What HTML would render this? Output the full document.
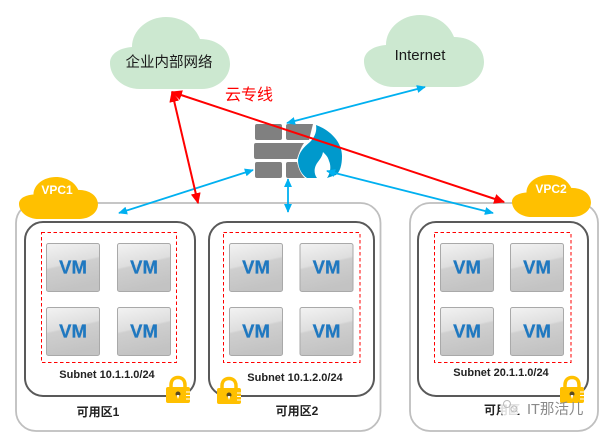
<!DOCTYPE html>
<html>
<head>
<meta charset="utf-8">
<style>
html,body{margin:0;padding:0;background:#fff;width:604px;height:435px;overflow:hidden}
svg{display:block}
text{font-family:"Liberation Sans","Noto Sans CJK SC",sans-serif}
</style>
</head>
<body>
<svg width="604" height="435" viewBox="0 0 604 435" xmlns="http://www.w3.org/2000/svg">
<defs>
<linearGradient id="g" x1="0" y1="0" x2="0.25" y2="1">
<stop offset="0" stop-color="#f3f3f3"/><stop offset="0.48" stop-color="#dedede"/><stop offset="0.52" stop-color="#cfcfcf"/><stop offset="1" stop-color="#c3c3c3"/>
</linearGradient>
<path id="cloud" d="M30 72C13 72 0 60 0 46C0 37 9 31 22 30C22 13 38 0 56 0C72 0 85 9 90 22C107 22 120 32 120 47C120 61 107 72 92 72Z"/>
<g id="vm">
<rect x="0.5" y="0.5" width="53" height="48" rx="2" fill="url(#g)" stroke="#a9a9a9"/>
<text x="27" y="30.500" text-anchor="middle" font-size="18.500" font-weight="bold" fill="#1f78c0" stroke="#1f78c0" stroke-width="0.3">VM</text>
</g>
<g id="lock">
<path d="M5 12V9C5 4 8 1.500 12 1.500C16 1.500 19 4 19 9V12" fill="none" stroke="#ffc000" stroke-width="3.500"/>
<rect x="0" y="11" width="24" height="16" rx="2" fill="#ffc000"/>
<circle cx="12" cy="18" r="2.500" fill="#5a4a20"/>
<path d="M10.500 19H13.500L12 23Z" fill="#fff"/>
<path d="M20 16H24M20 19.500H24M20 23H24" stroke="#fff" stroke-width="1"/>
</g>
<marker id="bs" viewBox="0 0 10 10" refX="9" refY="5" markerWidth="9" markerHeight="8" markerUnits="userSpaceOnUse" orient="auto-start-reverse" preserveAspectRatio="none"><path d="M0 0L10 5L0 10Z" fill="#00b0f0"/></marker>
<marker id="rs" viewBox="0 0 10 10" refX="9" refY="5" markerWidth="11" markerHeight="10" markerUnits="userSpaceOnUse" orient="auto-start-reverse" preserveAspectRatio="none"><path d="M0 0L10 5L0 10Z" fill="#ff0000"/></marker>
</defs>

<!-- VPC containers -->
<rect x="16" y="203" width="364.500" height="228" rx="20" fill="#fff" stroke="#bfbfbf" stroke-width="1.800"/>
<rect x="410" y="203" width="188" height="228" rx="20" fill="#fff" stroke="#bfbfbf" stroke-width="1.800"/>

<!-- AZ boxes -->
<rect x="25" y="222" width="170" height="174" rx="18" fill="none" stroke="#595959" stroke-width="2"/>
<rect x="209" y="222" width="165" height="174" rx="18" fill="none" stroke="#595959" stroke-width="2"/>
<rect x="418" y="222" width="170" height="174" rx="18" fill="none" stroke="#595959" stroke-width="2"/>

<!-- Subnets -->
<g fill="none" stroke="#ff0000" stroke-width="1" stroke-dasharray="3.500 2.500">
<rect x="41.500" y="232.500" width="135" height="130"/>
<rect x="223.500" y="232.500" width="136.500" height="130"/>
<rect x="434.500" y="232.500" width="136.500" height="130"/>
</g>

<!-- VMs -->
<use href="#vm" x="46" y="243"/><use href="#vm" x="117" y="243"/>
<use href="#vm" x="46" y="307"/><use href="#vm" x="117" y="307"/>
<use href="#vm" x="229" y="243"/><use href="#vm" x="299.500" y="243"/>
<use href="#vm" x="229" y="307"/><use href="#vm" x="299.500" y="307"/>
<use href="#vm" x="440" y="243"/><use href="#vm" x="510" y="243"/>
<use href="#vm" x="440" y="307"/><use href="#vm" x="510" y="307"/>

<!-- Subnet labels -->
<g font-size="11" font-weight="bold" fill="#222" text-anchor="middle">
<text x="107" y="378">Subnet 10.1.1.0/24</text>
<text x="295" y="381">Subnet 10.1.2.0/24</text>
<text x="501" y="376">Subnet 20.1.1.0/24</text>
</g>
<g font-size="12" font-weight="bold" fill="#222" text-anchor="middle">
<text x="98" y="416">可用区1</text>
<text x="297" y="415">可用区2</text>
<text x="502" y="414">可用区</text>
</g>

<!-- Locks -->
<use href="#lock" x="166" y="376"/>
<use href="#lock" x="217" y="377"/>
<use href="#lock" x="560" y="376"/>

<!-- Watermark -->
<circle cx="510" cy="408" r="10" fill="#fff" opacity="0.85"/>
<circle cx="507" cy="404" r="3.500" fill="none" stroke="#bbb" stroke-width="1"/>
<circle cx="514" cy="409" r="3" fill="none" stroke="#bbb" stroke-width="1"/>
<text x="527" y="414" font-size="14.500" fill="#8a8a8a">IT那活儿</text>

<!-- Clouds -->
<use href="#cloud" x="110" y="17" fill="#cce8d0"/>
<use href="#cloud" x="364" y="15" fill="#cce8d0"/>
<use href="#cloud" transform="translate(19 177) scale(0.658 0.583)" fill="#ffc000"/>
<use href="#cloud" transform="translate(512 175) scale(0.658 0.583)" fill="#ffc000"/>
<text x="169" y="67" text-anchor="middle" font-size="14.500" fill="#1a1a1a">企业内部网络</text>
<text x="420" y="60" text-anchor="middle" font-size="15" fill="#1a1a1a">Internet</text>
<text x="57" y="194" text-anchor="middle" font-size="12" font-weight="bold" fill="#fff">VPC1</text>
<text x="551" y="193" text-anchor="middle" font-size="12" font-weight="bold" fill="#fff">VPC2</text>
<text x="249" y="100" text-anchor="middle" font-size="16" fill="#ff0000">云专线</text>

<!-- Firewall -->
<g fill="#808080">
<rect x="255" y="124" width="27" height="16" rx="2"/>
<path d="M288 124H313L309 140H288A2 2 0 0 1 286 138V126A2 2 0 0 1 288 124Z"/>
<path d="M256 143H304C301 147 299 153 297 159H256A2 2 0 0 1 254 157V145A2 2 0 0 1 256 143Z"/>
<rect x="255" y="162" width="27" height="16" rx="2"/>
<path d="M288 162H297C299 171 302 175 305 178H288A2 2 0 0 1 286 176V164A2 2 0 0 1 288 162Z"/>
</g>
<path d="M316 125C330 130 342 142 342 156C342 165 340 172 336 175L327 178C331 172 331 165 329 161C328 157 326 155 323 152C322 158 318 161 316 165C314 169 314 174 317 178H307C302 175 298 168 298 160C299 152 304 147 310 142C315 137 317 131 316 125Z" fill="#0099cc"/>

<!-- Blue connectors -->
<g stroke="#00b0f0" stroke-width="1.800" fill="none" marker-start="url(#bs)" marker-end="url(#bs)">
<line x1="287" y1="123" x2="425" y2="87"/>
<line x1="119" y1="213" x2="253" y2="170"/>
<line x1="288" y1="179" x2="288" y2="212"/>
<line x1="327" y1="171" x2="493" y2="213"/>
</g>

<!-- Red connectors -->
<g stroke="#ff0000" stroke-width="2" fill="none" marker-start="url(#rs)" marker-end="url(#rs)">
<line x1="172" y1="92" x2="198" y2="203"/>
<line x1="172" y1="92" x2="504" y2="202"/>
</g>
</svg>
</body>
</html>
